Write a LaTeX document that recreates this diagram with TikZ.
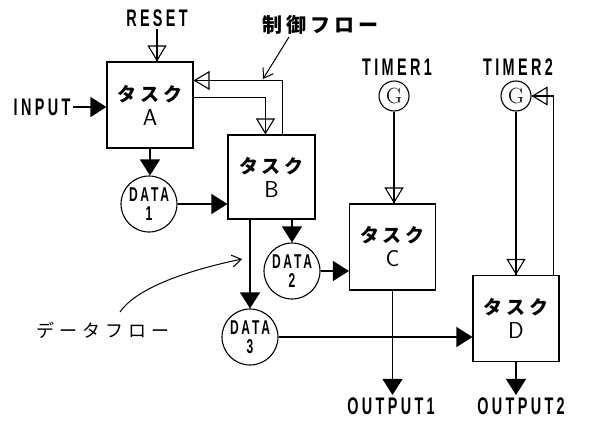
\documentclass[tikz,border=0pt]{standalone}
\usepackage{fontspec}
\usetikzlibrary{arrows.meta,calc}
\newfontfamily\lblfont{Liberation Sans}[FakeStretch=0.6,LetterSpace=14]
\newfontfamily\jpfont{Noto Sans CJK JP}[LetterSpace=20]
\newfontfamily\jpwide{Noto Sans CJK JP}[LetterSpace=28]
\begin{document}
\begin{tikzpicture}[x=1pt,y=-1pt,line width=1.1pt,
  task/.style={draw,minimum width=86pt,minimum height=86pt,inner sep=0pt,align=center,
    font=\fontsize{19}{24}\selectfont},
  datac/.style={draw,circle,minimum size=56pt,inner sep=0pt,align=center,
    font=\lblfont\bfseries\fontsize{20}{18.5}\selectfont},
  gen/.style={draw,circle,minimum size=30pt,inner sep=0pt,font=\fontsize{22}{22}\selectfont},
  lbl/.style={inner sep=2pt,font=\lblfont\bfseries\fontsize{24}{24}\selectfont},
  filled/.style={-{Triangle[length=16pt,width=20pt]}},
  openarr/.style={-{Triangle[open,length=16pt,width=19pt]},postaction={draw,-}},
  annarr/.style={line width=1pt,-{Straight Barb[length=9pt,width=12pt]}}]
\useasboundingbox (0,0) rectangle (591,420);
% tasks
\node[task] (A) at (150,105) {{\jpfont\bfseries タスク}\\{\sffamily\fontsize{23}{23}\selectfont A}};
\node[task,minimum width=87pt,minimum height=84pt] (B) at (271.5,177) {{\jpfont\bfseries タスク}\\{\sffamily\fontsize{23}{23}\selectfont B}};
\node[task] (C) at (392.5,247) {{\jpfont\bfseries タスク}\\{\sffamily\fontsize{23}{23}\selectfont C}};
\node[task] (D) at (516,318.5) {{\jpfont\bfseries タスク}\\{\sffamily\fontsize{23}{23}\selectfont D}};
% data
\node[datac] (d1) at (149,204) {DATA\\1};
\node[datac] (d2) at (292,271) {DATA\\2};
\node[datac] (d3) at (250,337) {DATA\\3};
% generators
\node[gen] (g1) at (394,96) {G};
\node[gen] (g2) at (516,96) {G};
% labels
\node[lbl] (reset) at (157,18) {RESET};
\node[lbl] (input) at (42,107) {INPUT};
\node[lbl] (timer1) at (397,67) {TIMER1};
\node[lbl] (timer2) at (518,67) {TIMER2};
\node[lbl] (out1) at (391,406) {OUTPUT1};
\node[lbl] (out2) at (521,406) {OUTPUT2};
\node[inner sep=1pt,font=\jpfont\bfseries\fontsize{20}{20}\selectfont] (ctrl) at (320,25) {制御フロー};
\node[inner sep=1pt,font=\jpwide\fontsize{18}{18}\selectfont] (df) at (103,330) {データフロー};
% connectors
\draw[openarr] (reset.south) -- (reset.south |- A.north);
\draw[filled] (input.east) -- (input.east -| A.west);
\draw[filled] (A.south) -- (A.south |- d1.north);
\draw[filled] (d1.east) -- (d1.east -| B.west);
\draw[openarr] ($(B.north west)+(55,0)$) |- ($(A.north east)+(0,19)$);
\draw[openarr] ($(A.north east)+(0,36)$) -| ($(B.north west)+(38,0)$);
\draw[filled] (B.south -| d2) -- (d2.north);
\draw[filled] (B.south -| d3) -- (d3.north);
\draw[filled] (d2.east) -- (d2.east -| C.west);
\draw[filled] (d3.east) -- (d3.east -| D.west);
\draw[filled] (C.south) -- (C.south |- out1.north);
\draw[filled] (D.south) -- (D.south |- out2.north);
\draw[openarr] (g1.south) -- (g1.south |- C.north);
\draw[openarr] (g2.south) -- (g2.south |- D.north);
\draw[openarr] ($(D.north east)+(-6,0)$) |- (g2.east);
% annotations
\coordinate (ctrltip) at (263,79);
\coordinate (ctrlbase) at (289,37);
\draw[annarr] (ctrlbase) -- (ctrltip);
\coordinate (dfstart) at (120,312);
\coordinate (dftip) at (242,259);
\draw[annarr] (dfstart) .. controls (135,290) and (180,272) .. (dftip);
\end{tikzpicture}
\end{document}
